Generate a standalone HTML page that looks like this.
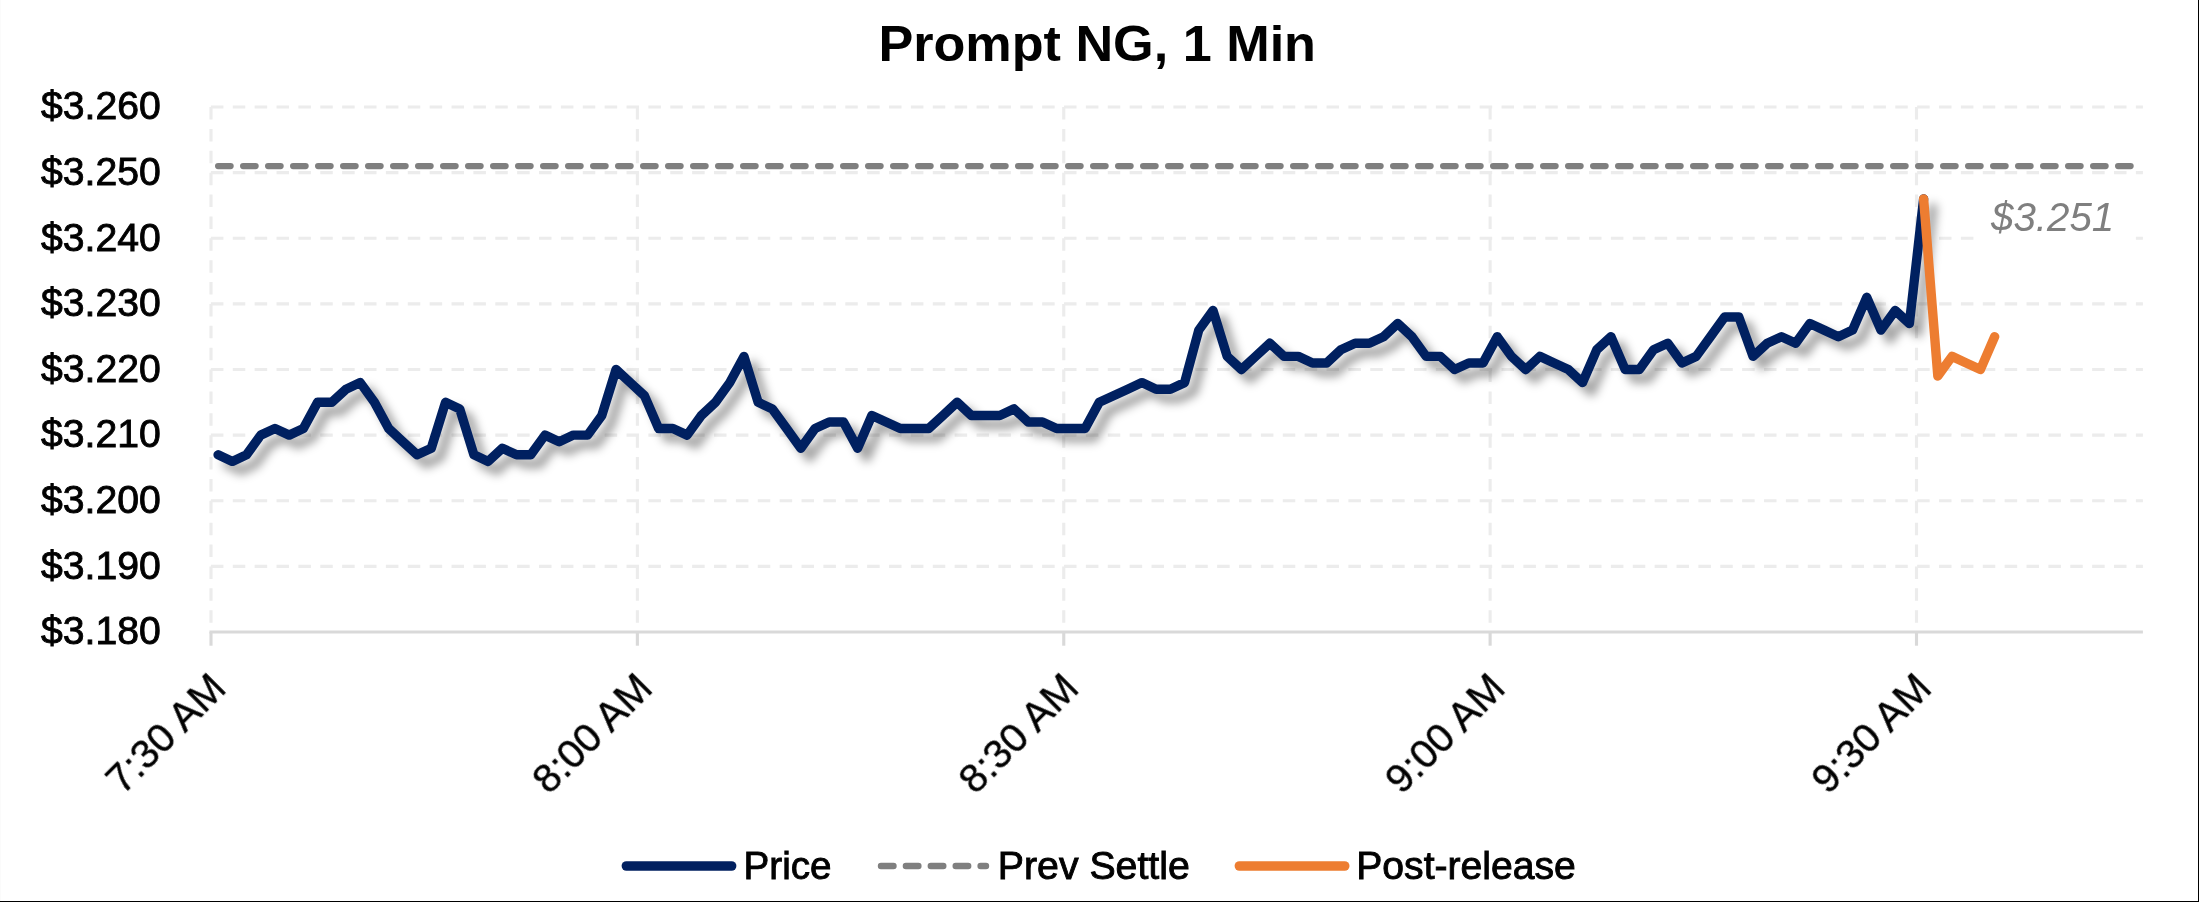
<!DOCTYPE html>
<html><head><meta charset="utf-8"><title>Prompt NG, 1 Min</title>
<style>
html,body{margin:0;padding:0;background:#fff;}
body{width:2199px;height:902px;overflow:hidden;font-family:"Liberation Sans",sans-serif;}
svg{display:block;}
text{font-family:"Liberation Sans",sans-serif;}
</style></head><body>
<svg width="2199" height="902" viewBox="0 0 2199 902">
<defs>
<filter id="sh" x="-5%" y="-20%" width="110%" height="150%" color-interpolation-filters="sRGB">
<feGaussianBlur in="SourceAlpha" stdDeviation="5.0"/>
<feOffset dx="8.5" dy="9.3" result="b"/>
<feFlood flood-color="#000" flood-opacity="0.37"/>
<feComposite in2="b" operator="in"/>
</filter>
</defs>
<rect x="0" y="0" width="2199" height="902" fill="#ffffff"/>

<rect x="0" y="901" width="2199" height="1" fill="#000"/>
<rect x="2198" y="0" width="1" height="902" fill="#000"/>
<rect x="0" y="0" width="1" height="901" fill="#fbfbfb"/>
<g stroke="#ececec" stroke-width="3.125" stroke-dasharray="12.5 9.375" fill="none"><line x1="210.9" y1="566.38" x2="2142.9" y2="566.38"/><line x1="210.9" y1="500.75" x2="2142.9" y2="500.75"/><line x1="210.9" y1="435.12" x2="2142.9" y2="435.12"/><line x1="210.9" y1="369.50" x2="2142.9" y2="369.50"/><line x1="210.9" y1="303.88" x2="2142.9" y2="303.88"/><line x1="210.9" y1="238.25" x2="2142.9" y2="238.25"/><line x1="210.9" y1="172.62" x2="2142.9" y2="172.62"/><line x1="210.9" y1="107.00" x2="2142.9" y2="107.00"/><line x1="211.00" y1="107.00" x2="211.00" y2="630.5"/><line x1="637.38" y1="107.00" x2="637.38" y2="630.5"/><line x1="1063.75" y1="107.00" x2="1063.75" y2="630.5"/><line x1="1490.12" y1="107.00" x2="1490.12" y2="630.5"/><line x1="1916.50" y1="107.00" x2="1916.50" y2="630.5"/></g>
<g stroke="#d9d9d9" stroke-width="3.125" fill="none"><line x1="209.44" y1="632.0" x2="2142.9" y2="632.0"/><line x1="211.00" y1="632.0" x2="211.00" y2="645.7"/><line x1="637.38" y1="632.0" x2="637.38" y2="645.7"/><line x1="1063.75" y1="632.0" x2="1063.75" y2="645.7"/><line x1="1490.12" y1="632.0" x2="1490.12" y2="645.7"/><line x1="1916.50" y1="632.0" x2="1916.50" y2="645.7"/></g>
<polyline points="218.11,454.81 232.32,461.38 246.53,454.81 260.74,435.12 274.96,428.56 289.17,435.12 303.38,428.56 317.59,402.31 331.81,402.31 346.02,389.19 360.23,382.62 374.44,402.31 388.66,428.56 402.87,441.69 417.08,454.81 431.29,448.25 445.51,402.31 459.72,408.88 473.93,454.81 488.14,461.38 502.36,448.25 516.57,454.81 530.78,454.81 544.99,435.12 559.21,441.69 573.42,435.12 587.63,435.12 601.84,415.44 616.06,369.50 630.27,382.62 644.48,395.75 658.69,428.56 672.91,428.56 687.12,435.12 701.33,415.44 715.54,402.31 729.76,382.62 743.97,356.38 758.18,402.31 772.39,408.88 786.61,428.56 800.82,448.25 815.03,428.56 829.24,422.00 843.46,422.00 857.67,448.25 871.88,415.44 886.09,422.00 900.31,428.56 914.52,428.56 928.73,428.56 942.94,415.44 957.16,402.31 971.37,415.44 985.58,415.44 999.79,415.44 1014.01,408.88 1028.22,422.00 1042.43,422.00 1056.64,428.56 1070.86,428.56 1085.07,428.56 1099.28,402.31 1113.49,395.75 1127.71,389.19 1141.92,382.62 1156.13,389.19 1170.34,389.19 1184.56,382.62 1198.77,330.12 1212.98,310.44 1227.19,356.38 1241.41,369.50 1255.62,356.38 1269.83,343.25 1284.04,356.38 1298.26,356.38 1312.47,362.94 1326.68,362.94 1340.89,349.81 1355.11,343.25 1369.32,343.25 1383.53,336.69 1397.74,323.56 1411.96,336.69 1426.17,356.38 1440.38,356.38 1454.59,369.50 1468.81,362.94 1483.02,362.94 1497.23,336.69 1511.44,356.38 1525.66,369.50 1539.87,356.38 1554.08,362.94 1568.29,369.50 1582.51,382.62 1596.72,349.81 1610.93,336.69 1625.14,369.50 1639.36,369.50 1653.57,349.81 1667.78,343.25 1681.99,362.94 1696.21,356.38 1710.42,336.69 1724.63,317.00 1738.84,317.00 1753.06,356.38 1767.27,343.25 1781.48,336.69 1795.69,343.25 1809.91,323.56 1824.12,330.12 1838.33,336.69 1852.54,330.12 1866.76,297.31 1880.97,330.12 1895.18,310.44 1909.39,323.56 1923.61,198.88" fill="none" stroke="#000" stroke-width="9.375" stroke-linecap="round" stroke-linejoin="round" filter="url(#sh)"/>
<line x1="218.11" y1="166.06" x2="2136.79" y2="166.06" stroke="#7f7f7f" stroke-width="6.25" stroke-linecap="round" stroke-dasharray="12.5 12.5"/>
<polyline points="218.11,454.81 232.32,461.38 246.53,454.81 260.74,435.12 274.96,428.56 289.17,435.12 303.38,428.56 317.59,402.31 331.81,402.31 346.02,389.19 360.23,382.62 374.44,402.31 388.66,428.56 402.87,441.69 417.08,454.81 431.29,448.25 445.51,402.31 459.72,408.88 473.93,454.81 488.14,461.38 502.36,448.25 516.57,454.81 530.78,454.81 544.99,435.12 559.21,441.69 573.42,435.12 587.63,435.12 601.84,415.44 616.06,369.50 630.27,382.62 644.48,395.75 658.69,428.56 672.91,428.56 687.12,435.12 701.33,415.44 715.54,402.31 729.76,382.62 743.97,356.38 758.18,402.31 772.39,408.88 786.61,428.56 800.82,448.25 815.03,428.56 829.24,422.00 843.46,422.00 857.67,448.25 871.88,415.44 886.09,422.00 900.31,428.56 914.52,428.56 928.73,428.56 942.94,415.44 957.16,402.31 971.37,415.44 985.58,415.44 999.79,415.44 1014.01,408.88 1028.22,422.00 1042.43,422.00 1056.64,428.56 1070.86,428.56 1085.07,428.56 1099.28,402.31 1113.49,395.75 1127.71,389.19 1141.92,382.62 1156.13,389.19 1170.34,389.19 1184.56,382.62 1198.77,330.12 1212.98,310.44 1227.19,356.38 1241.41,369.50 1255.62,356.38 1269.83,343.25 1284.04,356.38 1298.26,356.38 1312.47,362.94 1326.68,362.94 1340.89,349.81 1355.11,343.25 1369.32,343.25 1383.53,336.69 1397.74,323.56 1411.96,336.69 1426.17,356.38 1440.38,356.38 1454.59,369.50 1468.81,362.94 1483.02,362.94 1497.23,336.69 1511.44,356.38 1525.66,369.50 1539.87,356.38 1554.08,362.94 1568.29,369.50 1582.51,382.62 1596.72,349.81 1610.93,336.69 1625.14,369.50 1639.36,369.50 1653.57,349.81 1667.78,343.25 1681.99,362.94 1696.21,356.38 1710.42,336.69 1724.63,317.00 1738.84,317.00 1753.06,356.38 1767.27,343.25 1781.48,336.69 1795.69,343.25 1809.91,323.56 1824.12,330.12 1838.33,336.69 1852.54,330.12 1866.76,297.31 1880.97,330.12 1895.18,310.44 1909.39,323.56 1923.61,198.88" fill="none" stroke="#002060" stroke-width="9.375" stroke-linecap="round" stroke-linejoin="round"/>
<polyline points="1923.61,198.88 1937.82,376.06 1952.03,356.38 1966.24,362.94 1980.46,369.50 1994.67,336.69" fill="none" stroke="#ed7d31" stroke-width="9.375" stroke-linecap="round" stroke-linejoin="round"/>
<g opacity="0.999">
<text id="title" x="878.4" y="61.4" font-size="49.9" font-weight="bold" textLength="437.6" lengthAdjust="spacingAndGlyphs" fill="#000">Prompt NG, 1 Min</text>
<text class="yl" x="41" y="644.30" font-size="39.2" textLength="119.8" lengthAdjust="spacingAndGlyphs" fill="#000" stroke="#000" stroke-width="0.9">$3.180</text>
<text class="yl" x="41" y="578.67" font-size="39.2" textLength="119.8" lengthAdjust="spacingAndGlyphs" fill="#000" stroke="#000" stroke-width="0.9">$3.190</text>
<text class="yl" x="41" y="513.05" font-size="39.2" textLength="119.8" lengthAdjust="spacingAndGlyphs" fill="#000" stroke="#000" stroke-width="0.9">$3.200</text>
<text class="yl" x="41" y="447.43" font-size="39.2" textLength="119.8" lengthAdjust="spacingAndGlyphs" fill="#000" stroke="#000" stroke-width="0.9">$3.210</text>
<text class="yl" x="41" y="381.80" font-size="39.2" textLength="119.8" lengthAdjust="spacingAndGlyphs" fill="#000" stroke="#000" stroke-width="0.9">$3.220</text>
<text class="yl" x="41" y="316.18" font-size="39.2" textLength="119.8" lengthAdjust="spacingAndGlyphs" fill="#000" stroke="#000" stroke-width="0.9">$3.230</text>
<text class="yl" x="41" y="250.55" font-size="39.2" textLength="119.8" lengthAdjust="spacingAndGlyphs" fill="#000" stroke="#000" stroke-width="0.9">$3.240</text>
<text class="yl" x="41" y="184.93" font-size="39.2" textLength="119.8" lengthAdjust="spacingAndGlyphs" fill="#000" stroke="#000" stroke-width="0.9">$3.250</text>
<text class="yl" x="41" y="119.30" font-size="39.2" textLength="119.8" lengthAdjust="spacingAndGlyphs" fill="#000" stroke="#000" stroke-width="0.9">$3.260</text>
<rect x="1976" y="190" width="152" height="56" fill="#ffffff"/>
<text id="sl" x="1991" y="230.6" font-size="40.3" font-style="italic" fill="#7f7f7f" >$3.251</text>
<text class="xl" transform="translate(228.00,690.4) rotate(-45)" text-anchor="end" font-size="40.6" fill="#000" stroke="#000" stroke-width="0.4">7:30 AM</text>
<text class="xl" transform="translate(654.38,690.4) rotate(-45)" text-anchor="end" font-size="40.6" fill="#000" stroke="#000" stroke-width="0.4">8:00 AM</text>
<text class="xl" transform="translate(1080.75,690.4) rotate(-45)" text-anchor="end" font-size="40.6" fill="#000" stroke="#000" stroke-width="0.4">8:30 AM</text>
<text class="xl" transform="translate(1507.12,690.4) rotate(-45)" text-anchor="end" font-size="40.6" fill="#000" stroke="#000" stroke-width="0.4">9:00 AM</text>
<text class="xl" transform="translate(1933.50,690.4) rotate(-45)" text-anchor="end" font-size="40.6" fill="#000" stroke="#000" stroke-width="0.4">9:30 AM</text>
<line x1="626.4" y1="866" x2="731.6" y2="866" stroke="#002060" stroke-width="9.6" stroke-linecap="round"/>
<line x1="881.0" y1="866" x2="986.0" y2="866" stroke="#7f7f7f" stroke-width="6.4" stroke-linecap="round" stroke-dasharray="12.5 12.4"/>
<line x1="1239.3999999999999" y1="866" x2="1344.7" y2="866" stroke="#ed7d31" stroke-width="9.6" stroke-linecap="round"/>
<text id="l1" x="743.6" y="878.5" font-size="38.4" textLength="88" lengthAdjust="spacingAndGlyphs" fill="#000" stroke="#000" stroke-width="0.9">Price</text>
<text id="l2" x="997.8" y="878.5" font-size="38.4" textLength="192" lengthAdjust="spacingAndGlyphs" fill="#000" stroke="#000" stroke-width="0.9">Prev Settle</text>
<text id="l3" x="1356.3" y="878.5" font-size="38.4" textLength="219.5" lengthAdjust="spacingAndGlyphs" fill="#000" stroke="#000" stroke-width="0.9">Post-release</text>
</g>
</svg></body></html>
